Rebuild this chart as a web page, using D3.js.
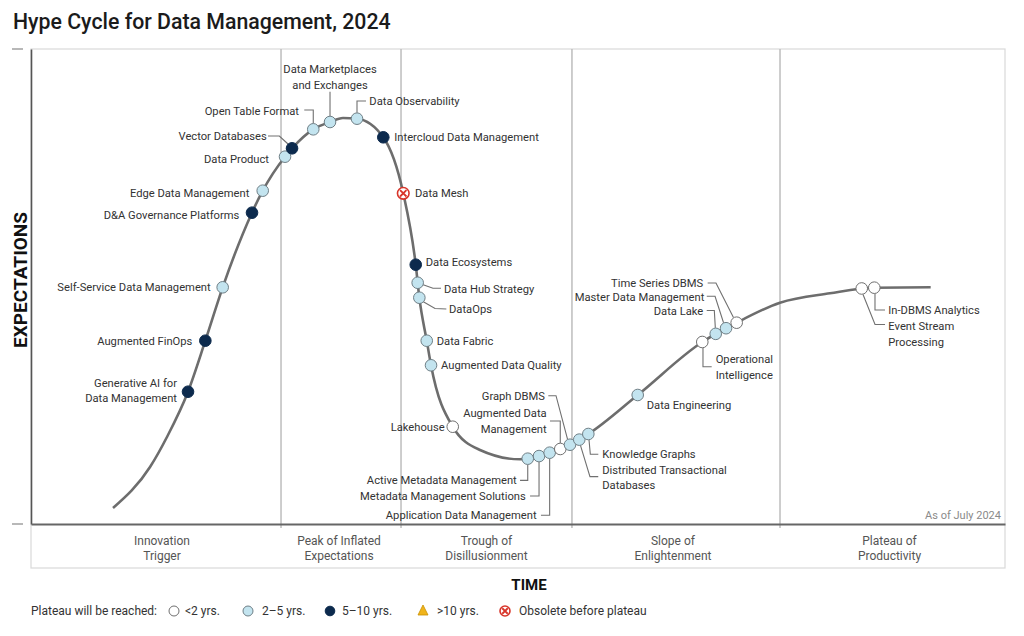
<!DOCTYPE html>
<html><head><meta charset="utf-8">
<script src="https://cdn.jsdelivr.net/npm/d3@7"></script>
<style>
body{margin:0;background:#fff;}
text{font-family:Roboto,"Noto Sans",sans-serif;}
</style>
</head><body>
<svg id="c" width="1024" height="636"></svg>
<script>
// ---------- DATA ----------
const chartTitle = "Hype Cycle for Data Management, 2024";
// hype curve knots (time 0-100, expectations 0-100)
const curveX = [8.42,12.22,13.96,16.12,17.90,19.68,22.69,23.79,26.08,26.80,28.98,30.70,32.03,33.47,36.17,38.22,39.50,39.87,40.63,41.07,43.30,46.10,50.21,53.25,55.34,57.22,62.29,68.92,72.45,76.90,82.03,86.58,92.37];
const curveY = [3.37,12.00,18.32,27.85,38.59,49.83,65.54,70.17,77.33,79.09,83.09,84.63,85.47,85.33,81.41,69.62,54.59,47.64,38.59,33.41,20.48,15.58,13.62,15.01,16.69,18.95,27.16,38.32,42.38,46.59,48.57,49.75,49.83];
const techNames = [
 "Generative AI for\nData Management","Augmented FinOps","Self-Service Data Management","D&A Governance Platforms",
 "Edge Data Management","Data Product","Vector Databases","Open Table Format","Data Marketplaces\nand Exchanges",
 "Data Observability","Intercloud Data Management","Data Mesh","Data Ecosystems","Data Hub Strategy","DataOps",
 "Data Fabric","Augmented Data Quality","Lakehouse","Active Metadata Management","Metadata Management Solutions",
 "Application Data Management","Augmented Data\nManagement","Graph DBMS","Distributed Transactional\nDatabases",
 "Knowledge Graphs","Data Engineering","Operational\nIntelligence","Data Lake","Master Data Management",
 "Time Series DBMS","Event Stream\nProcessing","In-DBMS Analytics"];
const techX = [16.12,17.90,19.68,22.69,23.79,26.08,26.80,28.98,30.70,33.47,36.17,38.22,39.50,39.70,39.87,40.63,41.07,43.30,51.00,52.16,53.25,54.34,55.34,56.29,57.22,62.29,68.92,70.30,71.36,72.45,85.29,86.58];
// 0: <2 yrs, 1: 2-5 yrs, 2: 5-10 yrs, 3: >10 yrs, 4: obsolete
const techCat = [2,2,1,2,1,1,2,1,1,1,2,4,2,1,1,1,1,0,1,1,1,0,1,1,1,1,0,1,1,0,0,0];
const phaseNames = ["Innovation\nTrigger","Peak of Inflated\nExpectations","Trough of\nDisillusionment","Slope of\nEnlightenment","Plateau of\nProductivity"];
const phaseBounds = [0,25.67,37.99,55.54,76.90,100];
const legendTitle = "Plateau will be reached:";
const legendLabels = ["<2 yrs.","2\u20135 yrs.","5\u201310 yrs.",">10 yrs.","Obsolete before plateau"];
const legendCats = [0,1,2,3,4];
const xTitle = "TIME", yTitle = "EXPECTATIONS", asOf = "As of July 2024";

// ---------- LAYOUT (label placement relative to each dot, px) ----------
const labelLayout = [
 {a:"end",dx:-11,dy:-9},
 {a:"end",dx:-13,dy:0},
 {a:"end",dx:-12,dy:0},
 {a:"end",dx:-12.7,dy:2.6},
 {a:"end",dx:-13.4,dy:2},
 {a:"end",dx:-16,dy:2.6},
 {a:"end",dx:-25.3,dy:-12.3,lead:[[-24,-12.3],[-12.7,-12.3],[-4,-4.3]]},
 {a:"end",dx:-14.3,dy:-18,lead:[[-9,-19.3],[0,-19.3],[0,-6]]},
 {a:"middle",dx:0,dy:-52.7,lead:[[0,-30.3],[0,-6]]},
 {a:"start",dx:12.3,dy:-17.4,lead:[[0,-6],[0,-17.7],[9,-17.7]]},
 {a:"start",dx:11,dy:0},
 {a:"start",dx:11.7,dy:0},
 {a:"start",dx:10,dy:-2.7},
 {a:"start",dx:26.3,dy:6,lead:[[5.5,2],[15.3,5.5],[23.3,5.5]]},
 {a:"start",dx:29.7,dy:11.6,lead:[[4,4],[15.7,10.8],[27,11.3]]},
 {a:"start",dx:10,dy:0},
 {a:"start",dx:10,dy:0},
 {a:"end",dx:-8,dy:0},
 {a:"end",dx:-11,dy:21.7,lead:[[-7.7,21.7],[0,21.7],[0,6]]},
 {a:"end",dx:-13.3,dy:40,lead:[[-9,40],[0,40],[0,6]]},
 {a:"end",dx:-13,dy:62.6,lead:[[-8.7,62.6],[0,62.6],[0,6]]},
 {a:"end",dx:-13.6,dy:-35.7,lead:[[-10.3,-28],[0,-28],[0,-6]]},
 {a:"end",dx:-25,dy:-48.4,lead:[[-21.7,-49],[-14,-49],[-2.5,-5.5]]},
 {a:"start",dx:23,dy:30,lead:[[1.2,5.7],[10.7,37],[19,37]]},
 {a:"start",dx:14,dy:20.3,lead:[[0.7,6],[2,20.3],[10,20.3]]},
 {a:"start",dx:9,dy:10.3},
 {a:"start",dx:13.4,dy:17.3,lead:[[0.7,6],[0.7,24.7],[9.4,24.7]]},
 {a:"end",dx:-12.4,dy:-23,lead:[[-9,-23.3],[-1.4,-23.3],[-0.4,-6]]},
 {a:"end",dx:-21.7,dy:-31.3,lead:[[-19.3,-32],[-11,-32],[-2.5,-5.5]]},
 {a:"end",dx:-33.4,dy:-39.4,lead:[[-29,-39.7],[-20.7,-39.7],[-3.2,-5.2]]},
 {a:"start",dx:26.6,dy:37.7,lead:[[1.3,6],[13.3,36],[23.3,36]]},
 {a:"start",dx:14,dy:22.3,lead:[[0.7,6],[0.7,22.3],[10.7,22.3]]}
];
const phaseNudge = [6,-2,0,-3,-3];

// ---------- DRAW ----------
const svg = d3.select("#c");
const L = 31, R = 1005, T = 49, B = 524, BAND = 568;
const x = d3.scaleLinear().domain([0,100]).range([L,R]);
const y = d3.scaleLinear().domain([0,100]).range([B,T]);
const lineH = 15.5;
const styles = [
 {fill:"#ffffff",stroke:"#6f6f6f"},
 {fill:"#c3e4ef",stroke:"#6f7f86"},
 {fill:"#0c2a4d",stroke:"#0c2a4d"},
 {fill:"#f0b41c",stroke:"#c99000"},
 {fill:"#ffffff",stroke:"#d8352a"}
];

svg.append("text").attr("x",13).attr("y",29).attr("font-size",21.3).attr("font-weight",500)
  .attr("fill","#1b1b1b").text(chartTitle);

// frame
svg.append("rect").attr("x",L).attr("y",T).attr("width",R-L).attr("height",BAND-T)
  .attr("fill","none").attr("stroke","#d9d9d9").attr("stroke-width",1.2);
// dividers
phaseBounds.slice(1,-1).forEach(b=>{
  svg.append("line").attr("x1",x(b)).attr("x2",x(b)).attr("y1",T).attr("y2",B+4)
    .attr("stroke","#bdbdbd").attr("stroke-width",1.5);
});
// axes
const yAxis = d3.axisLeft(y).tickValues([0,100]).tickFormat("").tickSize(0);
svg.append("g").attr("transform",`translate(${L},0)`).call(yAxis)
  .call(g=>g.select(".domain").attr("stroke","#555").attr("stroke-width",1.6));
[0,100].forEach(v=>svg.append("line").attr("x1",12).attr("x2",23).attr("y1",y(v)).attr("y2",y(v))
  .attr("stroke","#888").attr("stroke-width",1.2));
const xAxis = d3.axisBottom(x).tickValues([]).tickSize(0);
svg.append("g").attr("transform",`translate(0,${B})`).call(xAxis)
  .call(g=>g.select(".domain").attr("stroke","#666").attr("stroke-width",2));

// phase labels
phaseNames.forEach((p,i)=>{
  const cx = x((phaseBounds[i]+phaseBounds[i+1])/2)+phaseNudge[i];
  const t = svg.append("text").attr("text-anchor","middle").attr("font-size",12).attr("fill","#555");
  p.split("\n").forEach((ln,j)=>t.append("tspan").attr("x",cx).attr("y",540.7+j*15+4.2).text(ln));
});
svg.append("text").attr("x",R-4).attr("y",519).attr("text-anchor","end").attr("font-size",11)
  .attr("fill","#8a8a8a").text(asOf);

// axis titles
svg.append("text").attr("transform",`translate(27,280) rotate(-90)`).attr("text-anchor","middle")
  .attr("font-size",19).attr("font-weight",700).attr("fill","#111").text(yTitle);
svg.append("text").attr("x",529).attr("y",590).attr("text-anchor","middle")
  .attr("font-size",15).attr("font-weight",700).attr("fill","#111").text(xTitle);

// curve
const pts = curveX.map((v,i)=>[x(v),y(curveY[i])]);
const path = svg.append("path").attr("d",d3.line().curve(d3.curveMonotoneX)(pts))
  .attr("fill","none").attr("stroke","#6d6d6d").attr("stroke-width",2.6);
const pn = path.node(), total = pn.getTotalLength();
const samples = d3.range(0,total,0.5).map(l=>pn.getPointAtLength(l));
function yAt(px){
  for(let i=1;i<samples.length;i++){
    if(samples[i].x>=px){const a=samples[i-1],b=samples[i];const t=(px-a.x)/((b.x-a.x)||1);return a.y+t*(b.y-a.y);}
  }
  return samples[samples.length-1].y;
}

const techs = techNames.map((n,i)=>({name:n,px:x(techX[i]),cat:techCat[i],lay:labelLayout[i]}));
techs.forEach(d=>d.py=yAt(d.px));

// leaders
const lg = svg.append("g");
techs.forEach(d=>{
  if(!d.lay.lead) return;
  lg.append("path").attr("d",d3.line()(d.lay.lead.map(p=>[d.px+p[0],d.py+p[1]])))
    .attr("fill","none").attr("stroke","#707070").attr("stroke-width",1.1);
});
// labels
techs.forEach(d=>{
  const t = svg.append("text").attr("text-anchor",d.lay.a).attr("font-size",11.2).attr("fill","#333");
  d.name.split("\n").forEach((ln,j)=>t.append("tspan").attr("x",d.px+d.lay.dx)
     .attr("y",d.py+d.lay.dy+j*lineH).attr("dy","0.35em").text(ln));
});

function symbol(g,cat,cx,cy,r){
  const s = styles[cat];
  if(cat===3){
    g.append("path").attr("d",`M${cx},${cy-r-1}L${cx+r},${cy+r-1}L${cx-r},${cy+r-1}Z`)
      .attr("fill",s.fill).attr("stroke",s.stroke).attr("stroke-width",0.8);
    return;
  }
  g.append("circle").attr("cx",cx).attr("cy",cy).attr("r",r).attr("fill",s.fill)
    .attr("stroke",s.stroke).attr("stroke-width",cat===4?1.6:1);
  if(cat===4){
    const k=r*0.55;
    g.append("path").attr("d",`M${cx-k},${cy-k}L${cx+k},${cy+k}M${cx+k},${cy-k}L${cx-k},${cy+k}`)
      .attr("stroke",s.stroke).attr("stroke-width",1.8);
  }
}
const dg = svg.append("g");
techs.forEach(d=>symbol(dg,d.cat,d.px,d.py,5.8));

// legend
const leg = svg.append("g");
const ly = 611;
leg.append("text").attr("x",31).attr("y",ly).attr("dy","0.35em").attr("font-size",12).attr("fill","#333").text(legendTitle);
const legSymX = [174,248,330,423,505];
const legTextX = [185,262,342,437,519];
legendLabels.forEach((lab,i)=>{
  symbol(leg,legendCats[i],legSymX[i],ly,i===2?4.8:5);
  leg.append("text").attr("x",legTextX[i]).attr("y",ly).attr("dy","0.35em")
    .attr("font-size",12).attr("fill","#333").text(lab);
});
</script>
</body></html>
